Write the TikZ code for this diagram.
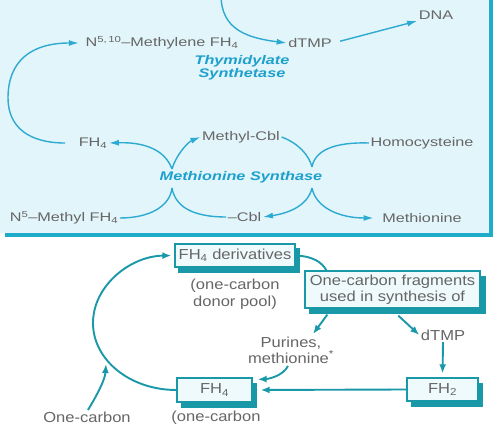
\documentclass[tikz,border=0pt]{standalone}
\usepackage{fontspec}
\newfontfamily\topfont{Liberation Sans}[FakeStretch=1.3]
\newfontfamily\botfont{Liberation Sans}[FakeStretch=1.14]
\usetikzlibrary{arrows.meta,calc}
\definecolor{panelbg}{RGB}{226,245,250}
\definecolor{panelbar}{RGB}{30,172,200}
\definecolor{tarrow}{RGB}{45,170,210}
\definecolor{enz}{RGB}{30,160,205}
\definecolor{gtxt}{RGB}{102,102,102}
\definecolor{teal2}{RGB}{25,152,168}
\definecolor{boxfill}{RGB}{238,250,251}
\begin{document}
\begin{tikzpicture}[x=1pt,y=-1pt,
  ttxt/.style={font=\topfont\fontsize{12.5}{13.5}\selectfont, text=gtxt, inner sep=1.5pt},
  etxt/.style={font=\topfont\bfseries\itshape\fontsize{12.5}{12.5}\selectfont, text=enz, align=center, inner sep=0pt},
  tarr/.style={draw=tarrow, line width=1.4pt, -{Latex[length=10pt,width=6pt]}},
  tline/.style={draw=tarrow, line width=1.4pt},
  btxt/.style={font=\botfont\fontsize{14.5}{16.5}\selectfont, text=gtxt, align=center, inner sep=1.5pt},
  bbox/.style={btxt, draw=teal2, line width=1.3pt, fill=boxfill, inner sep=0pt},
  sbox/.style={fill=teal2, draw=teal2, line width=1.3pt, inner sep=0pt},
  barr/.style={draw=teal2, line width=1.9pt, -{Latex[length=9pt,width=7pt]}},
  bline/.style={draw=teal2, line width=1.9pt},
]
\useasboundingbox (0,0) rectangle (498,430);
\fill[white] (0,0) rectangle (498,430);
\fill[panelbar] (5,-5) rectangle (493,237);
\fill[panelbg] (-5,-5) rectangle (489,233);

% top panel nodes
\node[ttxt] (mfh) at (162,43) {N\textsuperscript{5,\,10}–Methylene FH\textsubscript{4}};
\node[ttxt] (dtmp) at (310,43) {dTMP};
\node[ttxt] (dna) at (436,15) {DNA};
\node[etxt] (ts) at (242,68) {Thymidylate\\Synthetase};
\node[ttxt] (fh4) at (93,143) {FH\textsubscript{4}};
\node[ttxt] (mcbl) at (241,137) {Methyl-Cbl};
\node[ttxt] (homo) at (422,143) {Homocysteine};
\node[etxt] (ms) at (241,177) {Methionine Synthase};
\node[ttxt] (n5m) at (64,218) {N\textsuperscript{5}–Methyl FH\textsubscript{4}};
\node[ttxt, anchor=east] (cbl) at (263,217) {–Cbl};
\node[ttxt] (meth) at (422,218) {Methionine};

\coordinate (topin) at (221,-5);
\coordinate (lt) at (172,169);
\coordinate (lb) at (172,188);
\coordinate (rt) at (312,167);
\coordinate (rb) at (312,188);

\draw[tarr] (topin) .. controls (221,30) and (248,38) .. (dtmp.west);
\draw[tarr, shorten <=7pt] (dtmp.east) -- (dna.south west);
\draw[tarr, shorten <=12pt, shorten >=5pt] (fh4.west) .. controls (30,143) and (8,128) .. (8,98) .. controls (8,62) and (30,43) .. (mfh.west);
\draw[tline] (n5m.east) .. controls (150,218) and (170,206) .. (lb);
\draw[tline] (lb) .. controls (175,205) and (190,217) .. (cbl.west);
\draw[tarr] (lt) .. controls (165,150) and (145,142) .. (fh4.east);
\draw[tarr] (lt) .. controls (176,155) and (188,142) .. (mcbl.west);
\draw[tline] (mcbl.east) .. controls (298,143) and (309,155) .. (rt);
\draw[tline] (homo.west) .. controls (335,142) and (315,150) .. (rt);
\draw[tarr] (rb) .. controls (308,205) and (290,213) .. (cbl.east);
\draw[tarr, shorten >=7pt] (rb) .. controls (316,208) and (340,218) .. (meth.west);

% bottom panel: shadows first
\node[sbox, minimum width=120pt, minimum height=23pt] (fdS) at (239,260.5) {};
\node[sbox, minimum width=175pt, minimum height=37pt] (ocfS) at (397.5,295) {};
\node[sbox, minimum width=71pt, minimum height=23pt] (fh2S) at (447,395) {};
\node[sbox, minimum width=75pt, minimum height=24pt] (fh4bS) at (219,395.5) {};

\node[bbox, minimum width=120pt, minimum height=23pt] (fd) at (235,255.5) {FH\textsubscript{4} derivatives};
\node[btxt] (pool) at (235,294.5) {(one-carbon\\donor pool)};
\node[bbox, font=\botfont\fontsize{14.5}{16}\selectfont, minimum width=175pt, minimum height=37pt] (ocf) at (392.5,289.5) {One-carbon fragments\\used in synthesis of};
\node[btxt, font=\botfont\fontsize{14.5}{16}\selectfont] (pm) at (291,350) {Purines,\\methionine\textsuperscript{*}};
\node[btxt] (dtmp2) at (443,335) {dTMP};
\node[bbox, minimum width=71pt, minimum height=23pt] (fh2) at (442.5,389.5) {FH\textsubscript{2}};
\node[bbox, minimum width=75pt, minimum height=24pt] (fh4b) at (214.5,390) {FH\textsubscript{4}};
\node[btxt] (pool2) at (216,418) {(one-carbon};
\node[btxt] (src) at (87,417) {One-carbon};
\coordinate (loopin) at (106,364);

\draw[bline] (fd.east) .. controls (312,256) and (322,262) .. ($(ocf.north west)+(22,0)$);
\draw[barr] ($(ocf.south west)+(23,6)$) -- ($(pm.north)+(22,-1)$);
\draw[barr] ($(ocf.south west)+(94,7)$) -- (dtmp2.west);
\draw[barr, shorten >=4pt] (dtmp2.south) -- (fh2.north);
\draw[barr, shorten >=8pt] (fh2.west) -- (fh4b.east);
\draw[barr] ($(pm.south)+(-3,1)$) .. controls (283,376) and (268,379) .. ($(fh4b.north east)+(5,2)$);
\draw[barr, shorten >=3pt] (fh4b.west) .. controls (130,390) and (93,360) .. (93,323) .. controls (93,286) and (130,256) .. (fd.west);
\draw[barr] ($(src.north)+(1,0)$) .. controls (97,395) and (105,380) .. (loopin);
\end{tikzpicture}
\end{document}
